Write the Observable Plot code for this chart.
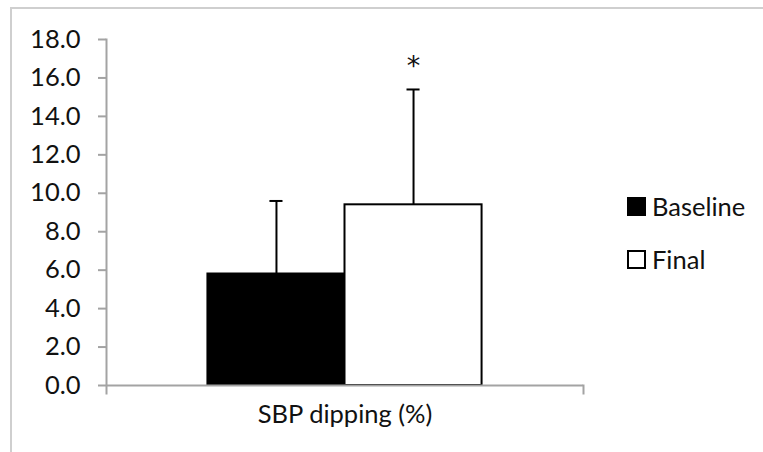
<!DOCTYPE html>
<html>
<head>
<meta charset="utf-8">
<script src="https://cdn.jsdelivr.net/npm/d3@7"></script>
<script src="https://cdn.jsdelivr.net/npm/@observablehq/plot@0.6"></script>
<style>
  html, body { margin: 0; padding: 0; background: #fff; }
  #wrap { position: relative; width: 763px; height: 452px; overflow: hidden; font-family: Lato, "Noto Sans", sans-serif; }
  #wrap svg { position: absolute; left: 0; top: 0; }
  #border { position: absolute; left: 10px; top: 7px; right: -4px; bottom: -4px; border-top: 2px solid #cfcfcf; border-left: 2px solid #cfcfcf; pointer-events: none; }
  #legend { position: absolute; left: 627px; top: 192px; font-size: 25.5px; color: #111; }
  .item { display: flex; align-items: center; height: 28px; margin-bottom: 25px; }
  .sw { width: 15px; height: 15px; border: 2px solid #000; margin-right: 6px; box-sizing: content-box; }
</style>
</head>
<body>
<div id="wrap"><div id="border"></div></div>
<script>
// ---- data ----
const category = "SBP dipping (%)";
const series = ["Baseline", "Final"];
const means = [5.8, 9.4];
const sds = [3.8, 6.0];
const significance = ["", "*"];
const seriesColors = ["#000000", "#ffffff"];
const yTicks = [0, 2, 4, 6, 8, 10, 12, 14, 16, 18];

const data = series.map((s, i) => ({series: s, value: means[i], sd: sds[i], sig: significance[i]}));

// ---- layout ----
const W = 763, H = 452;
const mL = 106, mR = 180, mT = 39, mB = 67;
const plotH = H - mT - mB;
const axisGray = "#a3a3a3";
const font = "Lato, 'Noto Sans', sans-serif";

const chart = Plot.plot({
  width: W,
  height: H,
  marginLeft: mL,
  marginRight: mR,
  marginTop: mT,
  marginBottom: mB,
  style: {fontFamily: font, fontSize: "25.5px", color: "#111", background: "transparent"},
  x: {type: "band", domain: series, paddingInner: 0, paddingOuter: 0.74, axis: null, round: false},
  y: {domain: [0, 18], axis: null},
  color: {domain: series, range: seriesColors},
  marks: [
    Plot.barY(data, {x: "series", y: "value", fill: "series", stroke: "#000", strokeWidth: 2}),
    Plot.ruleX(data, {x: "series", y1: "value", y2: d => d.value + d.sd, stroke: "#000", strokeWidth: 2}),
    Plot.tickY(data, {x: "series", y: d => d.value + d.sd, stroke: "#000", strokeWidth: 2, inset: 62}),
    Plot.text(data, {x: "series", y: d => d.value + d.sd, text: "sig", dy: -23, fontSize: 27, fontFamily: "DejaVu Sans", fill: "#111"}),
    Plot.ruleY([0], {stroke: axisGray, strokeWidth: 2}),
    Plot.frame({anchor: "left", insetBottom: -8, stroke: axisGray, strokeWidth: 2}),
    Plot.frame({anchor: "right", insetTop: plotH, insetBottom: -8, stroke: axisGray, strokeWidth: 2}),
    Plot.axisY({ticks: yTicks, tickFormat: d3.format(".1f"), tickSize: 8, tickPadding: 18, stroke: axisGray, strokeWidth: 2, fill: "#111", label: null}),
    Plot.text([category], {frameAnchor: "bottom", dy: 37, fill: "#111"})
  ]
});

const wrap = document.getElementById("wrap");
wrap.insertBefore(chart, wrap.firstChild);

// legend from series/colors
const legend = document.createElement("div");
legend.id = "legend";
series.forEach((s, i) => {
  const item = document.createElement("div");
  item.className = "item";
  const sw = document.createElement("span");
  sw.className = "sw";
  sw.style.background = seriesColors[i];
  const t = document.createElement("span");
  t.textContent = s;
  item.appendChild(sw);
  item.appendChild(t);
  legend.appendChild(item);
});
wrap.appendChild(legend);
</script>
</body>
</html>
